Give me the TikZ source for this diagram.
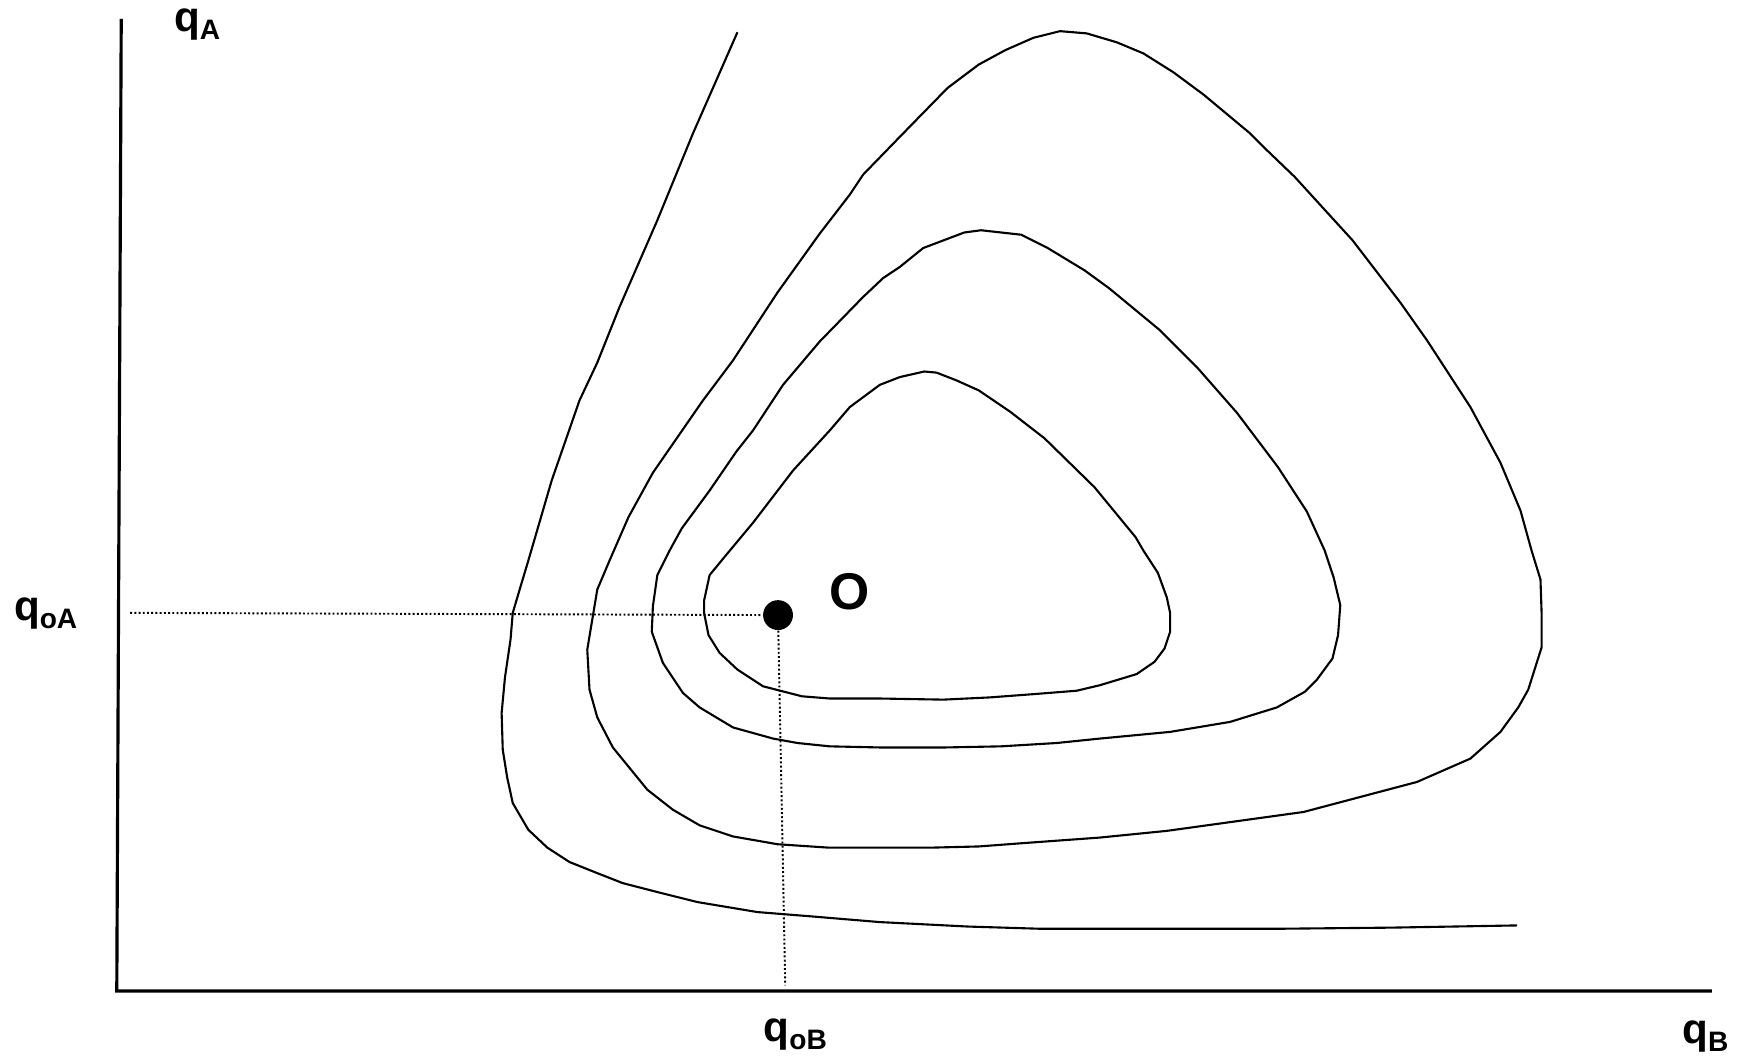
\documentclass[tikz,border=0pt]{standalone}
\usepackage{fontspec}
\setmainfont{Liberation Sans}
\newcommand{\qsub}[1]{q\raisebox{-2.3pt}{\fontsize{8}{9}\selectfont #1}}

\begin{document}
\begin{tikzpicture}[
  x=0.011122cm, y=-0.011122cm,
  font=\bfseries\fontsize{12}{14}\selectfont,
  axis/.style={line width=.9pt},
  level/.style={line width=.6pt, line join=round},
  guide/.style={line width=.55pt, dash pattern=on .55pt off .65pt},
  lbl/.style={anchor=base west, inner sep=0pt},
  optimum/.style={circle, fill=black, minimum size=8.5pt, inner sep=0pt}
]
\useasboundingbox (0,0) rectangle (1568,955);
\coordinate (top) at (109,17);
\coordinate (origin) at (105,891);
\coordinate (right) at (1539,891);
\draw[axis] (top) -- (origin) -- (right);

\node[lbl] (qa) at (156,28) {\qsub{A}};
\node[lbl] (qb) at (1512,938) {\qsub{B}};
\node[lbl] (qoa) at (12,558) {\qsub{oA}};
\node[lbl] (qob) at (686,936) {\qsub{oB}};

% open curve
\draw[level] (663,29) -- (623,120) -- (591,198) -- (557,276) -- (537,326)
  -- (521,360) -- (496,432) -- (475,504) -- (469,524) -- (461,551) -- (459,575)
  -- (454,609) -- (451,641) -- (452,674) -- (456,699) -- (461,722) -- (475,746)
  -- (492,762) -- (512,775) -- (537,785) -- (560,794) -- (591,802) -- (627,811)
  -- (681,820) -- (731,824) -- (791,829) -- (870,833) -- (935,835) -- (1040,835)
  -- (1150,835) -- (1250,834) -- (1364,832);

% outer closed curve
\draw[level] (953,28) -- (929,34) -- (904,45) -- (880,58) -- (852,79) -- (809,123)
  -- (776,157) -- (764,175) -- (737,210) -- (699,263) -- (659,324) -- (632,360)
  -- (587,425) -- (565,465) -- (548,504) -- (537,530) -- (528,584) -- (530,620)
  -- (537,645) -- (551,672) -- (582,710) -- (605,728) -- (629,742) -- (659,752)
  -- (699,759) -- (744,762) -- (791,762) -- (840,762) -- (880,761) -- (920,758)
  -- (989,753) -- (1049,747) -- (1172,730) -- (1274,703) -- (1322,682)
  -- (1349,658) -- (1365,636) -- (1374,620) -- (1386,582) -- (1386,551)
  -- (1385,521) -- (1377,495) -- (1367,459) -- (1349,416) -- (1322,366)
  -- (1283,306) -- (1259,272) -- (1216,216) -- (1164,159) -- (1139,135)
  -- (1124,120) -- (1082,85) -- (1055,65) -- (1028,48) -- (1004,38) -- (977,30)
  -- cycle;

% middle closed curve
\draw[level] (882,207) -- (867,209) -- (830,223) -- (809,240) -- (794,250)
  -- (776,267) -- (737,307) -- (704,346) -- (677,387) -- (662,406) -- (638,441)
  -- (613,475) -- (602,495) -- (591,517) -- (587,545) -- (586,568) -- (596,596)
  -- (614,623) -- (629,636) -- (659,654) -- (695,664) -- (717,668) -- (746,671)
  -- (791,672) -- (850,672) -- (900,671) -- (950,668) -- (989,664) -- (1052,658)
  -- (1106,649) -- (1148,636) -- (1173,622) -- (1184,611) -- (1198,592)
  -- (1203,571) -- (1205,544) -- (1199,519) -- (1191,495) -- (1175,460)
  -- (1149,420) -- (1112,371) -- (1076,330) -- (1043,297) -- (997,259)
  -- (975,243) -- (942,223) -- (918,211) -- cycle;

% inner closed curve
\draw[level] (831,334) -- (809,339) -- (791,346) -- (764,366) -- (746,387)
  -- (713,423) -- (677,470) -- (652,500) -- (638,517) -- (633,540) -- (633,551)
  -- (637,571) -- (647,587) -- (663,602) -- (686,617) -- (721,626) -- (746,628)
  -- (791,628) -- (848,629) -- (890,627) -- (930,624) -- (968,621) -- (989,616)
  -- (1022,606) -- (1038,595) -- (1047,583) -- (1052,568) -- (1052,551)
  -- (1049,537) -- (1041,515) -- (1028,495) -- (1021,483) -- (984,438)
  -- (939,394) -- (908,370) -- (880,351) -- (860,342) -- (842,335) -- cycle;

\node[optimum] (opt) at (699.5,553) {};
\node[font=\bfseries\fontsize{14.7}{17}\selectfont, inner sep=0pt] (olabel) at (764,532) {O};
\coordinate (oa) at (117,551);
\coordinate (ob) at (706,886);
\draw[guide] (oa) -- (opt);
\draw[guide] (opt) -- (ob);
\end{tikzpicture}
\end{document}
